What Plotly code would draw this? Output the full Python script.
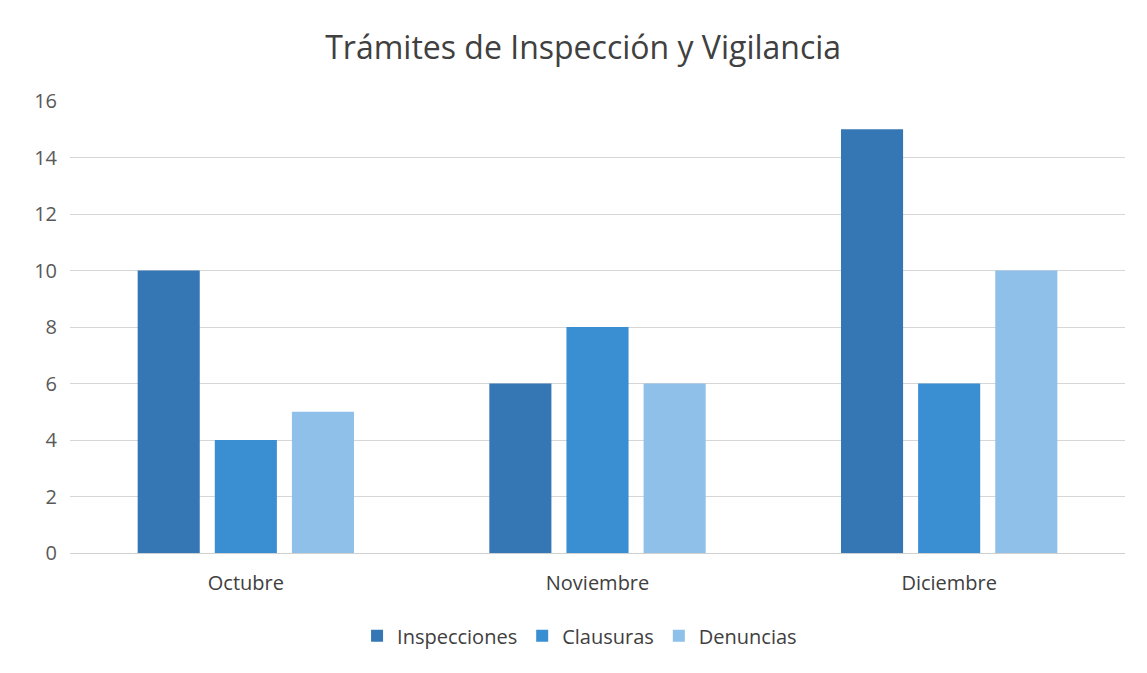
import plotly.graph_objects as go

months = ["Octubre", "Noviembre", "Diciembre"]
inspecciones = [10, 6, 15]
clausuras = [4, 8, 6]
denuncias = [5, 6, 10]
series_names = ["Inspecciones", "Clausuras", "Denuncias"]
colors = ["#3477b4", "#3a8fd3", "#8ec0ea"]

fig = go.Figure()
for name, vals, col in zip(series_names, [inspecciones, clausuras, denuncias], colors):
    fig.add_trace(go.Bar(name=name, x=months, y=vals, marker=dict(color=col, line=dict(width=0))))

font_family = "Open Sans, Liberation Sans, sans-serif"
fig.update_layout(
    width=1139, height=665,
    paper_bgcolor="white", plot_bgcolor="white",
    margin=dict(l=62, r=22, t=93, b=120),
    barmode="group", bargap=0.342, bargroupgap=0.195,
    title=dict(text="Trámites de Inspección y Vigilancia", x=0.505, xanchor="center",
               y=0.94, yanchor="middle",
               font=dict(family=font_family, size=32, color="#404040")),
    font=dict(family=font_family, color="#595959"),
    legend=dict(orientation="h", x=0.483, xanchor="center", y=-0.183, yanchor="middle",
                font=dict(size=20, color="#404040"), traceorder="normal", itemwidth=30),
    xaxis=dict(showline=True, linecolor="#d0d0d0", linewidth=1, ticks="",
               tickfont=dict(size=20, color="#404040"), ticklabelstandoff=12),
    yaxis=dict(range=[0, 16], dtick=2, showgrid=True, gridcolor="#d6d6d6", gridwidth=1,
               zeroline=False, tickfont=dict(size=20, color="#595959"), ticklabelstandoff=12),
)
fig.write_html("out.html")
